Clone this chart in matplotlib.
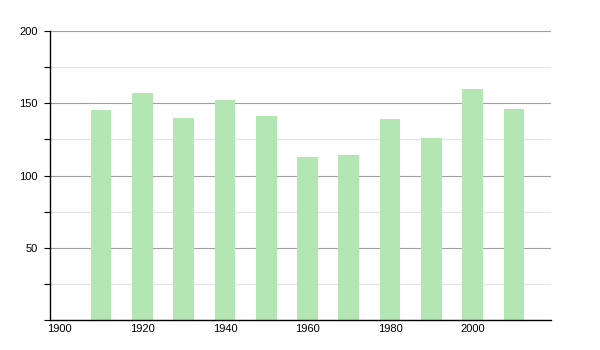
import numpy as np
import matplotlib.pyplot as plt
from matplotlib.ticker import MultipleLocator

years = [1910, 1920, 1930, 1940, 1950, 1960, 1970, 1980, 1990, 2000, 2010]
values = [145, 157, 140, 152, 141, 113, 114, 139, 126, 160, 146]
xticks = [1900, 1920, 1940, 1960, 1980, 2000]
yticks = [50, 100, 150, 200]

plt.rcParams['font.family'] = ['Liberation Sans', 'DejaVu Sans']

fig = plt.figure(figsize=(6, 3.5), dpi=100)
ax = fig.add_axes([0.0833, 0.0857, 0.835, 0.8257])

ax.bar(years, values, width=5, color='#b3e6b3', zorder=2)

ax.set_xlim(1897.6, 2019.0)
ax.set_ylim(0, 200)
ax.set_xticks(xticks)
ax.set_xticklabels([str(t) for t in xticks])
ax.set_yticks(yticks)
ax.yaxis.set_minor_locator(MultipleLocator(25))

ax.grid(axis='y', which='major', color='#a0a0a0', linewidth=0.8, zorder=1)
ax.grid(axis='y', which='minor', color='#e2e2e2', linewidth=0.8, zorder=1)

for s in ['top', 'right']:
    ax.spines[s].set_visible(False)
ax.spines['left'].set_linewidth(1.0)
ax.spines['bottom'].set_linewidth(1.0)

ax.tick_params(axis='y', which='both', length=4, width=0.8, labelsize=8, pad=5)
ax.tick_params(axis='x', length=0, labelsize=8, pad=3)

plt.savefig('out.png', dpi=100)
